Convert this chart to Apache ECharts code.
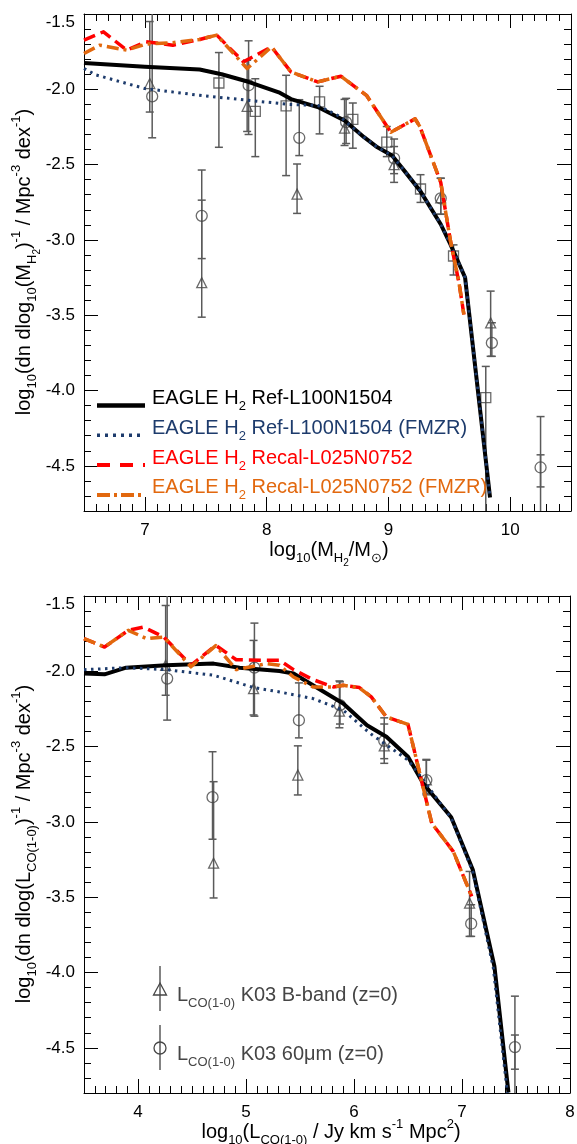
<!DOCTYPE html>
<html>
<head>
<meta charset="utf-8">
<script src="https://cdn.jsdelivr.net/npm/echarts@6/dist/echarts.min.js"></script>
<style>
html, body { margin: 0; padding: 0; background: #ffffff; }
#chart { width: 577px; height: 1144px; }
</style>
</head>
<body>
<div id="chart"></div>
<script>
// ---------- tick values ----------
const massTicks = [7, 8, 9, 10];
const lumTicks = [4, 5, 6, 7, 8];
const phiTicks = [-4.5, -4.0, -3.5, -3.0, -2.5, -2.0, -1.5];

// ---------- upper panel: H2 mass function, [log10 M_H2, log10 phi] ----------
const refH2 = [[6.5,-1.825],[7.0,-1.850],[7.45,-1.869],[7.63,-1.90],[7.85,-1.95],[8.1,-2.02],[8.2,-2.065],[8.42,-2.118],[8.64,-2.207],[8.8,-2.318],[8.91,-2.385],[9.03,-2.44],[9.13,-2.54],[9.26,-2.673],[9.43,-2.896],[9.51,-3.03],[9.63,-3.25],[9.835,-4.71]];
const refH2Fmzr = [[6.5,-1.862],[6.6,-1.905],[7.0,-1.995],[7.45,-2.04],[7.85,-2.073],[8.18,-2.10],[8.42,-2.107],[8.6,-2.18],[8.8,-2.318],[8.91,-2.385],[9.03,-2.44],[9.13,-2.54],[9.26,-2.673],[9.43,-2.896],[9.51,-3.03],[9.63,-3.25],[9.835,-4.71]];
const recalH2 = [[6.5,-1.673],[6.66,-1.618],[6.85,-1.74],[7.01,-1.684],[7.23,-1.707],[7.45,-1.669],[7.59,-1.64],[7.81,-1.818],[8.04,-1.718],[8.2,-1.885],[8.42,-1.951],[8.61,-1.913],[8.82,-2.04],[9.02,-2.285],[9.22,-2.196],[9.26,-2.25],[9.43,-2.618],[9.51,-3.007],[9.58,-3.284],[9.62,-3.495]];
const recalH2Fmzr = [[6.5,-1.762],[6.63,-1.707],[6.85,-1.74],[7.01,-1.70],[7.23,-1.69],[7.45,-1.669],[7.59,-1.64],[7.84,-1.862],[8.04,-1.718],[8.2,-1.885],[8.42,-1.951],[8.61,-1.913],[8.82,-2.04],[9.02,-2.285],[9.22,-2.196],[9.26,-2.25],[9.43,-2.618],[9.51,-3.007],[9.58,-3.284],[9.62,-3.495]];

// observed points: [x, y, upper, lower]
const k03BandMass = [[7.04,-1.962,-1.55,-2.151],[7.467,-3.284,-2.736,-3.513],[7.84,-2.113,-1.807,-2.28],[8.25,-2.696,-2.496,-2.824],[8.64,-2.258,-2.067,-2.373],[9.047,-2.50,-2.38,-2.618],[9.43,-2.72,-2.59,-2.83],[9.84,-3.551,-3.34,-3.773],[10.25,-4.87,-4.427,-5.1]];
const k03FirMass = [[7.06,-2.047,-1.40,-2.322],[7.467,-2.84,-2.536,-3.124],[7.852,-1.973,-1.678,-2.30],[8.268,-2.322,-2.069,-2.44],[8.653,-2.218,-2.06,-2.36],[9.047,-2.458,-2.33,-2.56],[9.43,-2.724,-2.591,-2.829],[9.85,-3.684,-3.55,-3.773],[10.25,-4.511,-4.173,-4.64]];
const surveyMass = [[7.608,-1.958,-1.756,-2.385],[7.907,-2.147,-1.93,-2.447],[8.16,-2.11,-1.907,-2.573],[8.435,-2.084,-1.98,-2.296],[8.708,-2.20,-2.091,-2.391],[8.987,-2.351,-2.247,-2.447],[9.264,-2.662,-2.567,-2.751],[9.535,-3.107,-3.033,-3.233],[9.80,-4.047,-3.84,-5.1]];

// ---------- lower panel: CO(1-0) luminosity function, [log10 L_CO, log10 phi] ----------
const refCO = [[3.5,-2.015],[3.69,-2.02],[3.89,-1.976],[4.26,-1.96],[4.70,-1.949],[4.94,-1.976],[5.31,-1.998],[5.44,-2.015],[5.62,-2.093],[5.90,-2.214],[6.12,-2.358],[6.30,-2.435],[6.50,-2.567],[6.64,-2.744],[6.90,-2.969],[7.10,-3.318],[7.30,-3.958],[7.43,-4.797]];
const refCOFmzr = [[3.5,-1.989],[3.89,-1.976],[4.26,-1.989],[4.70,-2.026],[5.07,-2.108],[5.31,-2.137],[5.62,-2.181],[5.90,-2.258],[6.15,-2.413],[6.50,-2.589],[6.64,-2.72],[6.90,-2.975],[7.10,-3.33],[7.29,-3.97],[7.42,-4.80]];
const recalCO = [[3.5,-1.783],[3.69,-1.839],[3.91,-1.728],[4.05,-1.706],[4.24,-1.773],[4.49,-1.96],[4.72,-1.828],[4.91,-1.923],[5.19,-1.927],[5.31,-1.927],[5.44,-1.989],[5.62,-2.055],[5.81,-2.104],[5.90,-2.093],[6.05,-2.108],[6.16,-2.17],[6.30,-2.303],[6.50,-2.353],[6.72,-3.009],[6.92,-3.197],[7.09,-3.495]];
const recalCOFmzr = [[3.5,-1.783],[3.69,-1.839],[3.91,-1.728],[4.08,-1.783],[4.24,-1.773],[4.49,-1.97],[4.72,-1.83],[4.91,-1.989],[5.19,-1.949],[5.31,-1.96],[5.44,-2.038],[5.62,-2.104],[5.81,-2.104],[5.90,-2.093],[6.05,-2.11],[6.16,-2.17],[6.30,-2.303],[6.50,-2.353],[6.72,-3.009],[6.92,-3.197],[7.09,-3.495]];

const k03BandCO = [[4.256,-1.96,-1.563,-2.159],[4.70,-3.274,-2.733,-3.505],[5.07,-2.115,-1.795,-2.29],[5.48,-2.689,-2.495,-2.821],[5.865,-2.265,-2.064,-2.375],[6.28,-2.495,-2.35,-2.611],[6.67,-2.72,-2.59,-2.81],[7.07,-3.539,-3.329,-3.76],[7.49,-4.87,-4.415,-5.1]];
const k03FirCO = [[4.27,-2.048,-1.40,-2.324],[4.69,-2.836,-2.534,-3.115],[5.078,-1.976,-1.68,-2.298],[5.49,-2.325,-2.077,-2.442],[5.87,-2.225,-2.07,-2.35],[6.28,-2.462,-2.309,-2.58],[6.67,-2.722,-2.585,-2.82],[7.085,-3.676,-3.55,-3.76],[7.49,-4.495,-4.157,-4.642]];

// ---------- axis titles ----------
const massTitle = 'log{s|10}(M{s|H}{ss|2}/M{s|\u2299})';
const lumTitle = 'log{s|10}(L{s|CO(1-0)} / Jy km s{p|-1} Mpc{p|2})';
const massPhiTitle = 'log{s|10}(dn dlog{s|10}(M{s|H}{ss|2}){p|-1} / Mpc{p|-3} dex{p|-1})';
const lumPhiTitle = 'log{s|10}(dn dlog(L{s|CO(1-0)}){p|-1} / Mpc{p|-3} dex{p|-1})';

// ---------- styling ----------
const FONT = '"Liberation Sans", Arial, Helvetica, sans-serif';
const GRAY = '#464646';
const BLUE = '#1d3b6c';
const RED = '#ff0000';
const ORANGE = '#e2680e';
const TITLE_SIZE = 20;

function richSet(size, color) {
  const small = Math.round(size * 0.65);
  return {
    s: { fontSize: small, fontFamily: FONT, color: color, fill: color, padding: [Math.round(size * 0.8), 0, 0, 0] },
    ss: { fontSize: Math.round(size * 0.48), fontFamily: FONT, color: color, fill: color, padding: [Math.round(size * 1.3), 0, 0, 0] },
    p: { fontSize: small, fontFamily: FONT, color: color, fill: color, padding: [0, 0, Math.round(size * 0.8), 0] },
    t: { fontSize: size, fontFamily: FONT, color: color, fill: color, padding: [16, 0, 0, 0] }
  };
}

// per side pair: labelled major-tick axis + minor-tick axis, mirrored on the opposite side
function boxAxes(dim, gridIndex, min, max, majors, minorStep, fmt) {
  const sides = dim === 'x' ? ['bottom', 'top'] : ['left', 'right'];
  const axes = [];
  sides.forEach(function (pos, k) {
    axes.push({
      type: 'value', gridIndex: gridIndex, position: pos, min: min, max: max,
      axisLine: { show: true, onZero: false, lineStyle: { color: '#000', width: 1 } },
      axisTick: { show: true, inside: true, length: 14, customValues: majors, lineStyle: { color: '#000', width: 1 } },
      axisLabel: k === 0 ? {
        show: true, customValues: majors, margin: dim === 'x' ? 11 : 9,
        fontSize: 17, fontFamily: FONT, color: '#000', formatter: fmt, rich: richSet(17, '#000')
      } : { show: false },
      splitLine: { show: false }
    });
    axes.push({
      type: 'value', gridIndex: gridIndex, position: pos, min: min, max: max, interval: minorStep,
      axisLine: { show: false, onZero: false },
      axisTick: { show: true, inside: true, length: 7, lineStyle: { color: '#000', width: 1 } },
      axisLabel: { show: false },
      splitLine: { show: false }
    });
  });
  return axes;
}

const xFmt = function (v) { return String(Math.round(v)); };
const yFmt = function (v) { return Math.abs(v + 1.5) < 1e-6 ? '{t|-1.5}' : v.toFixed(1); };

const xAxes = [].concat(
  boxAxes('x', 0, 6.5, 10.5, massTicks, 0.1, xFmt),
  boxAxes('x', 1, 3.5, 8, lumTicks, 0.1, xFmt)
);
const yAxes = [].concat(
  boxAxes('y', 0, -4.8, -1.5, phiTicks, 0.1, yFmt),
  boxAxes('y', 1, -4.8, -1.5, phiTicks, 0.1, yFmt)
);

// x/y axis indices of the labelled axes for each panel
const AX = [{ x: 0, y: 0 }, { x: 4, y: 4 }];

function errorBars(panel, pts) {
  return {
    type: 'custom', xAxisIndex: AX[panel].x, yAxisIndex: AX[panel].y, clip: true, z: 2,
    data: pts.map(function (p) { return [p[0], p[3], p[2]]; }),
    encode: { x: 0, y: [1, 2] },
    renderItem: function (params, api) {
      const x = api.value(0);
      const lo = api.coord([x, api.value(1)]);
      const hi = api.coord([x, api.value(2)]);
      const cap = 4;
      const style = { stroke: '#5a5a5a', lineWidth: 1.5, fill: null };
      return {
        type: 'group', children: [
          { type: 'line', shape: { x1: hi[0], y1: hi[1], x2: lo[0], y2: lo[1] }, style: style },
          { type: 'line', shape: { x1: hi[0] - cap, y1: hi[1], x2: hi[0] + cap, y2: hi[1] }, style: style },
          { type: 'line', shape: { x1: lo[0] - cap, y1: lo[1], x2: lo[0] + cap, y2: lo[1] }, style: style }
        ]
      };
    }
  };
}

function markers(panel, pts, symbol, size) {
  return {
    type: 'scatter', xAxisIndex: AX[panel].x, yAxisIndex: AX[panel].y, z: 3,
    symbol: symbol, symbolSize: size, clip: true,
    data: pts.map(function (p) { return [p[0], p[1]]; }),
    itemStyle: { color: 'rgba(255,255,255,0)', borderColor: GRAY, borderWidth: 1.3 }
  };
}

function curve(panel, pts, color, width, dash, z) {
  return {
    type: 'line', xAxisIndex: AX[panel].x, yAxisIndex: AX[panel].y, z: z,
    data: pts, showSymbol: false, symbol: 'none', clip: true, smooth: false,
    lineStyle: { color: color, width: width, type: dash, cap: 'butt', join: 'round' }
  };
}

const series = [];
[[0, k03BandMass, k03FirMass, surveyMass], [1, k03BandCO, k03FirCO, null]].forEach(function (set) {
  const panel = set[0];
  series.push(errorBars(panel, set[1]), errorBars(panel, set[2]));
  if (set[3]) series.push(errorBars(panel, set[3]));
  series.push(markers(panel, set[1], 'triangle', [10, 10]), markers(panel, set[2], 'circle', 11));
  if (set[3]) series.push(markers(panel, set[3], 'rect', 10));
});
series.push(
  curve(0, refH2, '#000', 4, 'solid', 5),
  curve(0, refH2Fmzr, BLUE, 3, [2.5, 4.5], 6),
  curve(0, recalH2, RED, 3.5, [12, 6], 7),
  curve(0, recalH2Fmzr, ORANGE, 3.5, [12, 5, 3, 5], 8),
  curve(1, refCO, '#000', 4, 'solid', 5),
  curve(1, refCOFmzr, BLUE, 3, [2.5, 4.5], 6),
  curve(1, recalCO, RED, 3.5, [12, 6], 7),
  curve(1, recalCOFmzr, ORANGE, 3.5, [12, 5, 3, 5], 8)
);

// ---------- legends and axis titles ----------
const modelLegend = [
  { text: 'EAGLE H{s|2} Ref-L100N1504', color: '#000', width: 4.5, dash: null },
  { text: 'EAGLE H{s|2} Ref-L100N1504 (FMZR)', color: BLUE, width: 3.5, dash: [3, 5] },
  { text: 'EAGLE H{s|2} Recal-L025N0752', color: RED, width: 4, dash: [13, 10] },
  { text: 'EAGLE H{s|2} Recal-L025N0752 (FMZR)', color: ORANGE, width: 4, dash: [13, 4, 3, 4] }
];
const obsLegend = [
  { text: 'L{s|CO(1-0)} K03 B-band (z=0)', symbol: 'triangle' },
  { text: 'L{s|CO(1-0)} K03 60\u03bcm (z=0)', symbol: 'circle' }
];

function richText(text, x, y, size, color, rotation, align) {
  return {
    type: 'text', x: x, y: y, rotation: rotation || 0, z: 20,
    style: { text: text, fill: color, fontSize: size, fontFamily: FONT, align: align || 'center', verticalAlign: 'middle', rich: richSet(size, color) }
  };
}

const graphic = [
  richText(massTitle, 329, 550, TITLE_SIZE, '#000'),
  richText(lumTitle, 331, 1132, TITLE_SIZE, '#000'),
  richText(massPhiTitle, 24, 262, TITLE_SIZE, '#000', Math.PI / 2),
  richText(lumPhiTitle, 24, 844, TITLE_SIZE, '#000', Math.PI / 2)
];
modelLegend.forEach(function (row, i) {
  const base = 405.5 + i * 29.8;
  graphic.push({
    type: 'line', shape: { x1: 97, y1: base, x2: 145, y2: base },
    style: { stroke: row.color, lineWidth: row.width, lineDash: row.dash, lineCap: 'butt' }, z: 20
  });
  graphic.push(richText(row.text, 152, base - 7, 20, row.color, 0, 'left'));
});
obsLegend.forEach(function (row, i) {
  const cy = 989 + i * 59;
  const st = { stroke: GRAY, lineWidth: 1.3, fill: 'none' };
  graphic.push({ type: 'line', shape: { x1: 160, y1: cy - 23, x2: 160, y2: cy + 22 }, style: { stroke: '#5a5a5a', lineWidth: 1.5 }, z: 20 });
  if (row.symbol === 'triangle') {
    graphic.push({ type: 'polygon', shape: { points: [[160, cy - 6], [166.5, cy + 6], [153.5, cy + 6]] }, style: st, z: 21 });
  } else {
    graphic.push({ type: 'circle', shape: { cx: 160, cy: cy, r: 6 }, style: st, z: 21 });
  }
  graphic.push(richText(row.text, 177, cy + 6, 20, '#454545', 0, 'left'));
});

const chart = echarts.init(document.getElementById('chart'), null, { renderer: 'canvas' });
chart.setOption({
  animation: false,
  backgroundColor: '#ffffff',
  grid: [
    { left: 84, top: 14, width: 487, height: 497, containLabel: false, outerBoundsMode: 'none' },
    { left: 84, top: 596, width: 486, height: 497, containLabel: false, outerBoundsMode: 'none' }
  ],
  xAxis: xAxes,
  yAxis: yAxes,
  series: series,
  graphic: graphic
});
</script>
</body>
</html>
